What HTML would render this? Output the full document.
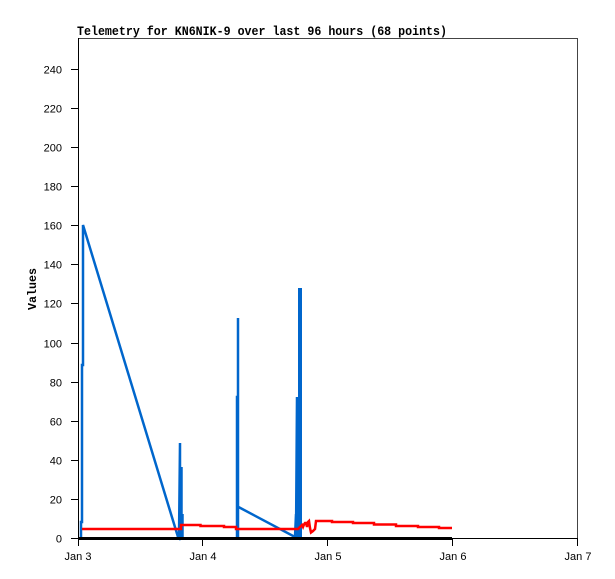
<!DOCTYPE html>
<html>
<head>
<meta charset="utf-8">
<style>
html,body{margin:0;padding:0;background:#fff;}
svg{display:block;}
.t{font-family:"Liberation Sans",sans-serif;font-size:11px;fill:#000;}
</style>
</head>
<body>
<svg width="615" height="579" viewBox="0 0 615 579" xmlns="http://www.w3.org/2000/svg">
<rect x="0" y="0" width="615" height="579" fill="#fff"/>
<!-- title -->
<text x="77" y="35" font-family="Liberation Mono, monospace" font-weight="bold" font-size="12.6" textLength="370" lengthAdjust="spacingAndGlyphs" fill="#000">Telemetry for KN6NIK-9 over last 96 hours (68 points)</text>
<!-- y axis label -->
<text transform="translate(36,289) rotate(-90)" text-anchor="middle" font-family="Liberation Mono, monospace" font-weight="bold" font-size="11.5" textLength="42" lengthAdjust="spacingAndGlyphs" fill="#000">Values</text>
<!-- frame -->
<line x1="78" y1="38.5" x2="577" y2="38.5" stroke="#444" stroke-width="1"/>
<line x1="577.5" y1="38" x2="577.5" y2="538" stroke="#444" stroke-width="1"/>
<line x1="78.5" y1="38" x2="78.5" y2="539" stroke="#000" stroke-width="1"/>
<line x1="78" y1="538.5" x2="578" y2="538.5" stroke="#000" stroke-width="1"/>
<!-- y ticks -->
<g stroke="#000" stroke-width="1">
<line x1="71" y1="538.5" x2="78" y2="538.5"/>
<line x1="71" y1="499.5" x2="78" y2="499.5"/>
<line x1="71" y1="460.5" x2="78" y2="460.5"/>
<line x1="71" y1="421.5" x2="78" y2="421.5"/>
<line x1="71" y1="382.5" x2="78" y2="382.5"/>
<line x1="71" y1="343.5" x2="78" y2="343.5"/>
<line x1="71" y1="303.5" x2="78" y2="303.5"/>
<line x1="71" y1="264.5" x2="78" y2="264.5"/>
<line x1="71" y1="225.5" x2="78" y2="225.5"/>
<line x1="71" y1="186.5" x2="78" y2="186.5"/>
<line x1="71" y1="147.5" x2="78" y2="147.5"/>
<line x1="71" y1="108.5" x2="78" y2="108.5"/>
<line x1="71" y1="69.5" x2="78" y2="69.5"/>
</g>
<g class="t" text-anchor="end">
<text x="62" y="542.5">0</text>
<text x="62" y="503.5">20</text>
<text x="62" y="464.5">40</text>
<text x="62" y="425.5">60</text>
<text x="62" y="386.5">80</text>
<text x="62" y="347.5">100</text>
<text x="62" y="307.5">120</text>
<text x="62" y="268.5">140</text>
<text x="62" y="229.5">160</text>
<text x="62" y="190.5">180</text>
<text x="62" y="151.5">200</text>
<text x="62" y="112.5">220</text>
<text x="62" y="73.5">240</text>
</g>
<!-- x ticks -->
<g stroke="#000" stroke-width="1">
<line x1="78.5" y1="538" x2="78.5" y2="546"/>
<line x1="202.5" y1="538" x2="202.5" y2="546"/>
<line x1="327.5" y1="538" x2="327.5" y2="546"/>
<line x1="452.5" y1="538" x2="452.5" y2="546"/>
<line x1="577.5" y1="538" x2="577.5" y2="546"/>
</g>
<g class="t" text-anchor="middle">
<text x="78" y="560">Jan 3</text>
<text x="203" y="560">Jan 4</text>
<text x="328" y="560">Jan 5</text>
<text x="453" y="560">Jan 6</text>
<text x="578" y="560">Jan 7</text>
</g>
<!-- blue series -->
<g fill="none" stroke="#0066cc" stroke-width="2.5" stroke-linejoin="miter">
<polyline points="81,538 81,522 82,522 82,365 83,365 83,225 178,537 179,538 180,443 180,538 181.5,467 181.5,538 182.5,514 182.5,538"/>
<polyline points="237,538 237,397 238,397 238,318 238,538"/>
<polyline points="238.5,507 295,537 296,514 296,538 297,397 297,538"/>
</g>
<rect x="298" y="288" width="4" height="250" fill="#0066cc"/>
<!-- red series -->
<polyline fill="none" stroke="#ff0000" stroke-width="2.5" stroke-linejoin="miter" points="82,529 181,529 181,525 200.5,525 200.5,526 224,526 224,527 236,527 236,529 298,529 300,527 302,525 303,527 304,524.5 305,523 306,523 307,527 308,522 309,521 310,528 311,532.5 313,531 314,530 315,529 316,521 332,521 332,522 353,522 353,523 374,523 374,524.5 396,524.5 396,526 418,526 418,527 439,527 439,528 452,528"/>
<!-- black series at zero -->
<line x1="78" y1="538.5" x2="452" y2="538.5" stroke="#000" stroke-width="3"/>
</svg>
</body>
</html>
